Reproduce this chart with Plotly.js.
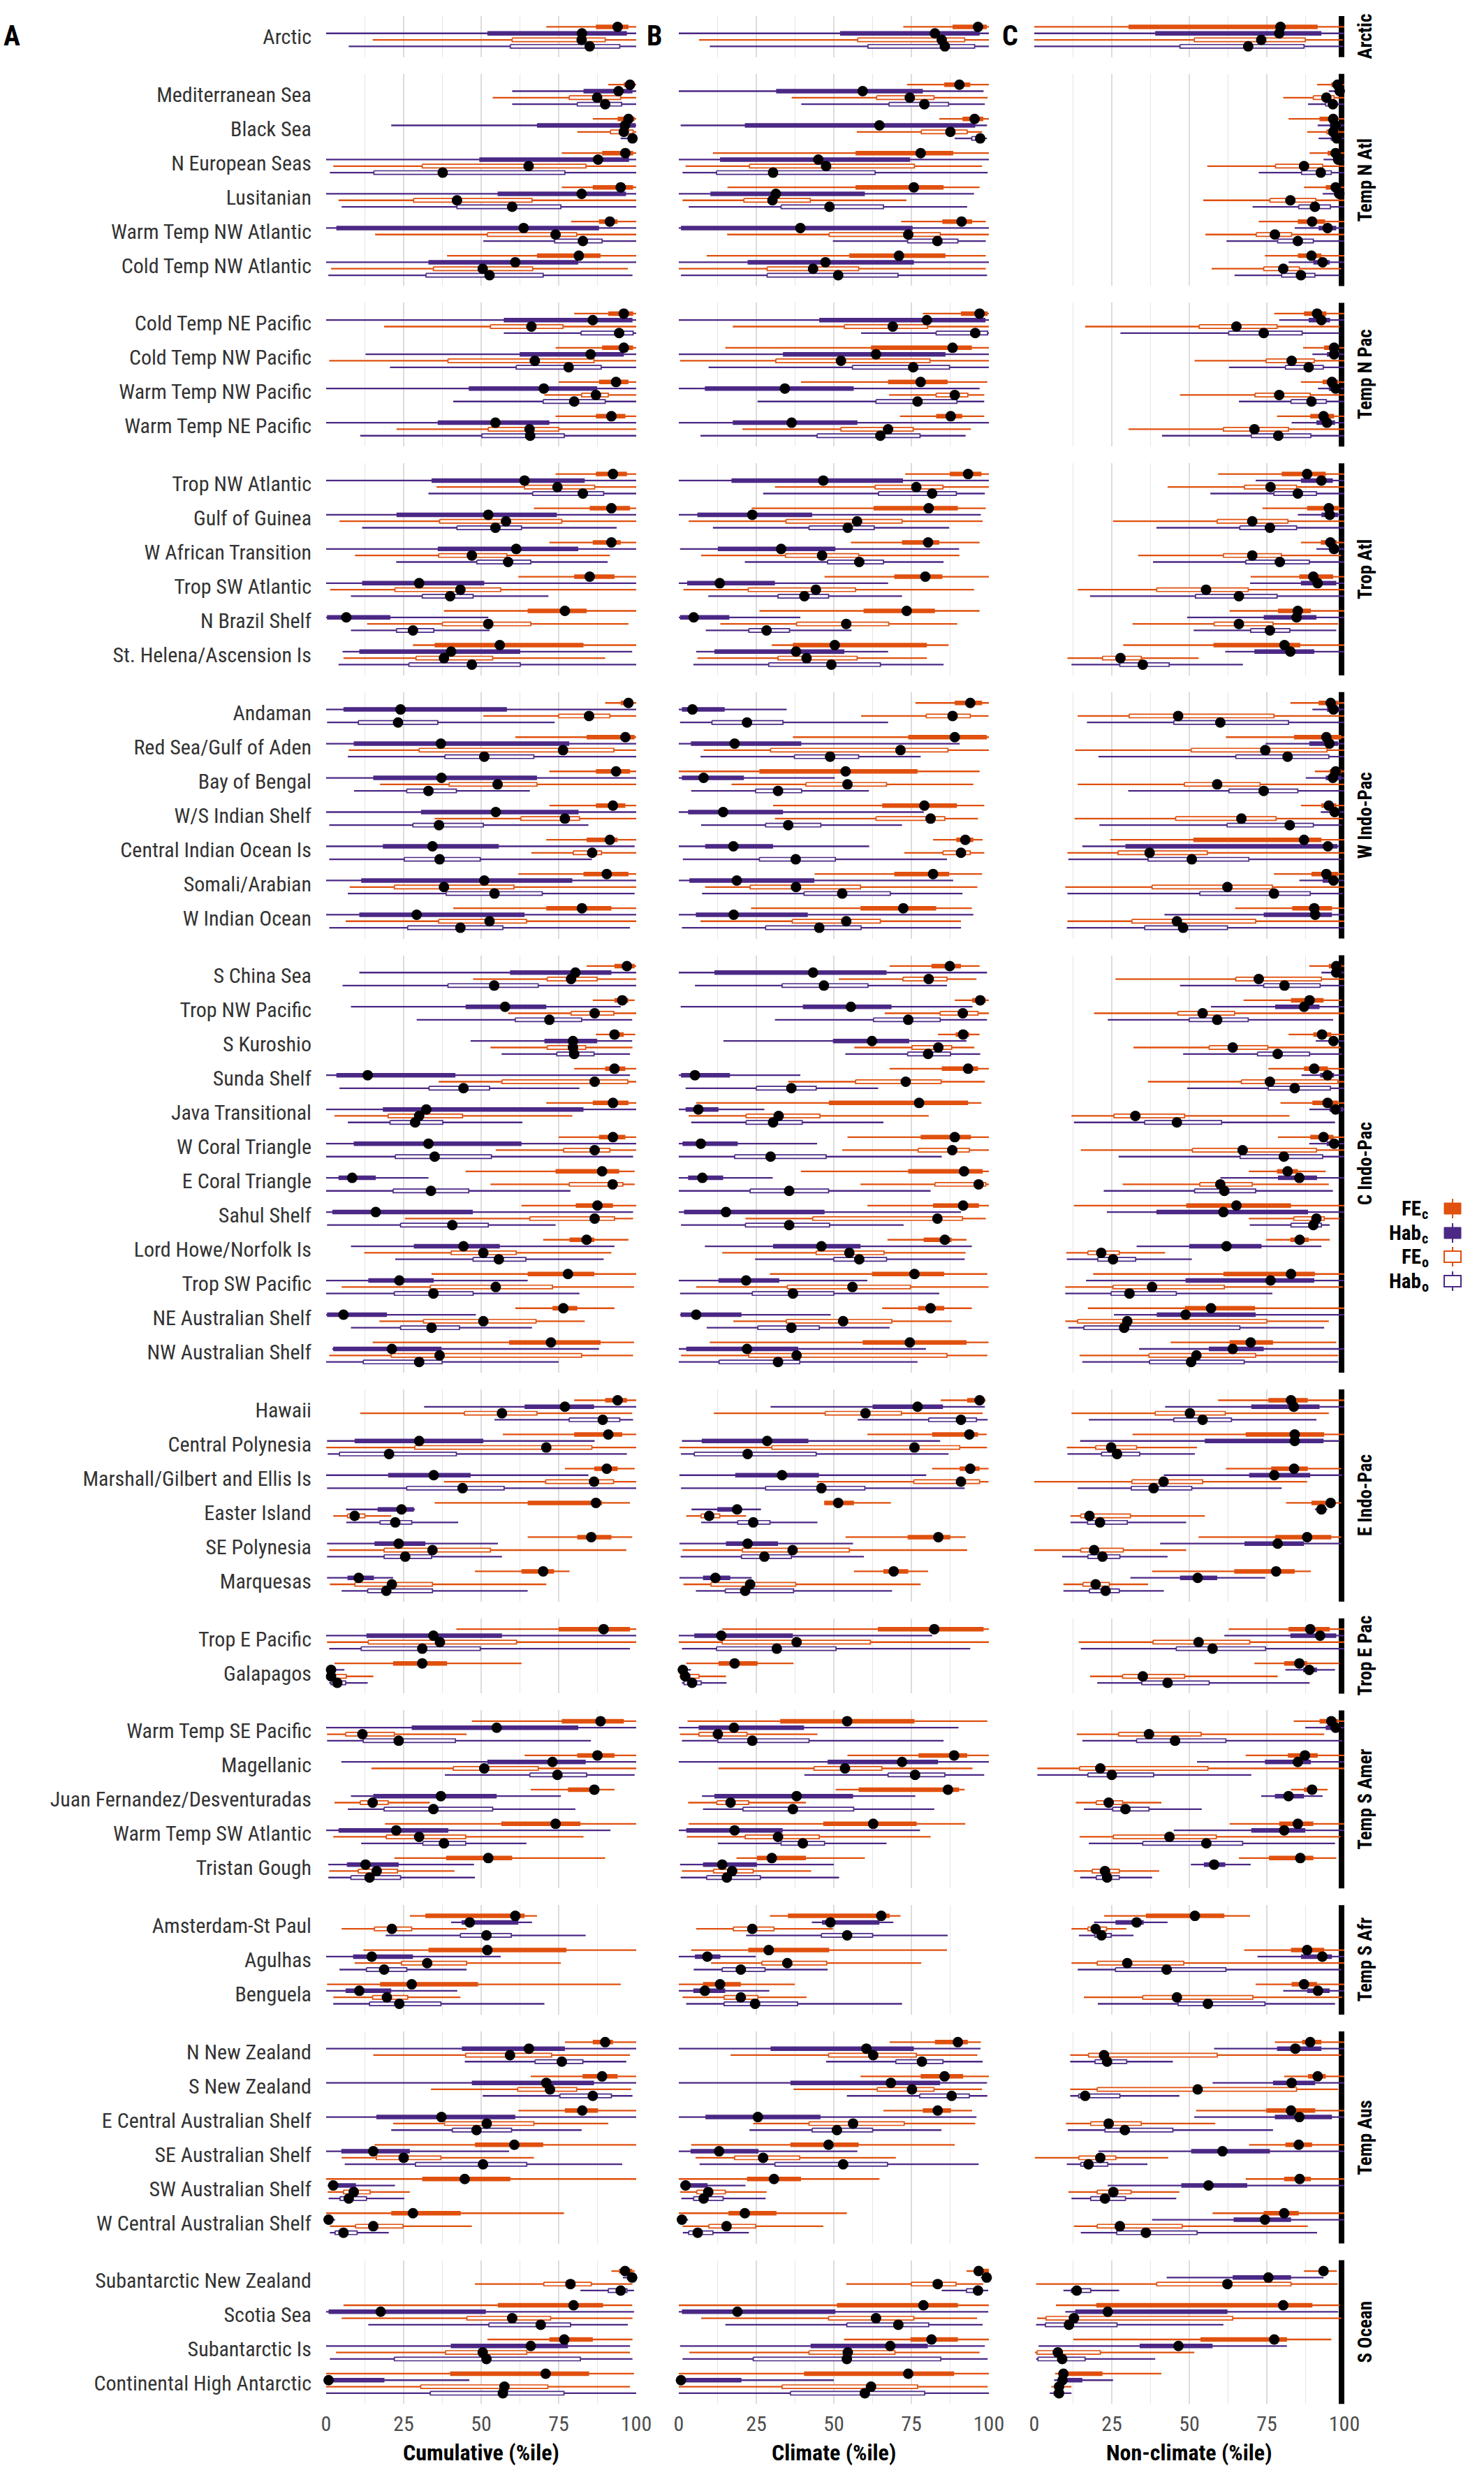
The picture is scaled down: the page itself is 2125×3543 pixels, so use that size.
<!DOCTYPE html>
<html><head><meta charset="utf-8">
<script src="https://cdn.plot.ly/plotly-3.0.1.min.js"></script>
<style>html,body{margin:0;padding:0;background:#fff;}#chart{width:2125px;height:3543px;}</style>
</head><body><div id="chart"></div>
<script>
const realms = ["Arctic","Temp N Atl","Temp N Pac","Trop Atl","W Indo-Pac","C Indo-Pac","E Indo-Pac","Trop E Pac","Temp S Amer","Temp S Afr","Temp Aus","S Ocean"];
const realmSizes = [1,6,4,6,7,12,6,2,5,3,6,4];
const regions = ["Arctic","Mediterranean Sea","Black Sea","N European Seas","Lusitanian","Warm Temp NW Atlantic","Cold Temp NW Atlantic","Cold Temp NE Pacific","Cold Temp NW Pacific","Warm Temp NW Pacific","Warm Temp NE Pacific","Trop NW Atlantic","Gulf of Guinea","W African Transition","Trop SW Atlantic","N Brazil Shelf","St. Helena/Ascension Is","Andaman","Red Sea/Gulf of Aden","Bay of Bengal","W/S Indian Shelf","Central Indian Ocean Is","Somali/Arabian","W Indian Ocean","S China Sea","Trop NW Pacific","S Kuroshio","Sunda Shelf","Java Transitional","W Coral Triangle","E Coral Triangle","Sahul Shelf","Lord Howe/Norfolk Is","Trop SW Pacific","NE Australian Shelf","NW Australian Shelf","Hawaii","Central Polynesia","Marshall/Gilbert and Ellis Is","Easter Island","SE Polynesia","Marquesas","Trop E Pacific","Galapagos","Warm Temp SE Pacific","Magellanic","Juan Fernandez/Desventuradas","Warm Temp SW Atlantic","Tristan Gough","Amsterdam-St Paul","Agulhas","Benguela","N New Zealand","S New Zealand","E Central Australian Shelf","SE Australian Shelf","SW Australian Shelf","W Central Australian Shelf","Subantarctic New Zealand","Scotia Sea","Subantarctic Is","Continental High Antarctic"];
const panelTitles = ["Cumulative (%ile)","Climate (%ile)","Non-climate (%ile)"];
const panelLetters = ["A","B","C"];
const seriesMain = ["FE","Hab","FE","Hab"];
const seriesSub = ["c","c","o","o"];
const xTickVals = [0,25,50,75,100];

// each entry: [low, q1, median, q3, high]
const cumFEc = [[71,87,94,97.5,100],[91,96,98,99,100],[86,94,97.5,99.5,100],[76,89,96.5,99,100],[76,86,95,99,100],[79,88,91.5,94,100],[39,68,81.5,88.5,100],[80,91,96,99,100],[74,89,96,99,100],[75,88,93.5,97.5,100],[74,87,92,96.5,100],[74,87,92.5,97,100],[67,85,92,98,100],[72,86,92,95,100],[62,80,85,93,100],[38,65,77,84,100],[28,35,56,83,100],[90,95,97.5,99,100],[61,84,96.5,99.5,100],[72,87,93.5,98,100],[72,87,92.5,96.5,100],[71,84,91.5,94,100],[62,83,90.5,97.5,100],[41,71,82.5,92,100],[84,93,97,99.5,100],[86,93,95.5,97.5,99.5],[87,91.5,93,96,99.7],[80,90,93,96.5,100],[71,86,92.5,97.5,100],[75,88,92.5,96.5,100],[45,74,89,94.5,99.5],[63,80.5,87.5,92.5,100],[70,78.5,84,86.5,97.5],[34,65,78,86.5,100],[61,73,76.5,81,93],[15,59,72.5,88.5,99.3],[80,90,94,97,100],[57,80,91,95.5,100],[77,86.5,90.5,94,99.5],[35,65,87,89,98],[65,81,85.5,92,98.7],[48,63,70,73.5,78.5],[42,75,89.5,98,100],[2.7,21.6,31,39,63],[47,76,88.5,96,100],[64,81,87.5,93,100],[66,78,86.5,88,93],[19,56.5,74,82,100],[22,38.7,52.3,60,90],[27,32,61,64,68],[12,33,52,77.5,100],[0.3,17.4,27.6,49,95],[77,86,90,92.5,100],[66,82.7,89,94,100],[62,77,82.6,87.7,100],[15.6,48,60.7,70,100],[0,31,44.7,59.4,100],[0,21,28,43.4,76.7],[92,94.4,96.4,98.7,99.5],[5.6,55.4,79.8,89.3,98.7],[52,72,76.8,86,98.8],[0,40,70.8,84.8,99.3]];
const cumHabc = [[0,52,82.5,97,100],[60,83,94.3,98.8,100],[21,68,96.4,99.8,100],[0,49.4,87.7,97.7,100],[0,55.3,82.4,96.7,100],[0,3.3,63.7,88,100],[0,33,61,81.3,100],[0,57.3,86,98.8,100],[12.7,62.4,85.3,96,100],[0,46,70.2,87.4,100],[0,36,54.6,72,100],[0,34,64,83.4,100],[0,22.7,52.3,74.4,100],[0,36,61.3,81.3,100],[0,11.6,30,51,100],[0,0.3,6.5,20.7,52.3],[5.3,10.7,40.3,62.6,98.7],[0,5.6,24,58.3,100],[0,8.9,37,78.4,100],[0,15.2,37.2,68,100],[0,30.6,54.7,81.4,100],[0,18.3,34.3,55.7,99.5],[0,11.3,51,79.4,100],[0,10.7,29.2,64,100],[10.7,59.3,80.4,92,100],[8,45,57.7,71,95],[46.6,70.4,79.6,87.4,98.7],[0,3.3,13.4,41.7,98],[0,18.3,32.3,83,100],[0,8.9,33,63,100],[0,4,8.4,16,33],[0,2,16,47.3,99],[8,28.3,44.3,56,93],[0,13.6,23.6,34.7,65],[0,0.3,5.6,19.6,48.3],[2,2.3,21.2,37.2,88],[31.6,64,77,86.4,100],[0.3,9.2,30,50.7,86.6],[0,20,34.7,46.6,84.6],[6.4,16.6,24.3,28.3,28.6],[0.3,15.6,23.4,32,55.4],[0.3,6.9,10.5,15.4,21.6],[0,13,34.6,56.7,100],[0,0.3,1.6,2.5,5.9],[0,27.6,55,81.3,100],[4.9,52,73,83.7,100],[8,15.2,37,55,75.7],[0,4,22.6,39.4,91.7],[0.7,6.7,12.7,23.4,47.7],[40.3,43.7,46.3,62,66.4],[0,8.7,14.7,28,56.3],[0,6.3,10.7,21,42.3],[0,43.8,65.4,77,100],[0,47,71,86.4,100],[0,16.2,37.2,61,100],[0,4.9,15.2,27,59],[0.5,1.5,2.3,9.6,22.2],[0,0,0.8,1.5,2.9],[95.7,97,98.7,99.7,100],[0,0.8,17.6,51.5,99.3],[0,40.2,66,78,98],[0,0,0.8,18.8,46.2]];
const cumFEo = [[15,60,82.4,90,100],[53.7,78.4,87.4,95,100],[81,91.7,96,99,100],[2.3,31,65.3,83.8,100],[4,28.2,42.2,66.4,100],[15.8,52,74,80.8,100],[1.6,34.6,50.5,66.6,97.3],[18.7,53,66.2,76.4,100],[1,39.3,67.3,86.4,100],[70.4,82.4,87,91,100],[22.7,52.3,65.6,75,100],[35.6,64,74.6,86.6,100],[4.3,36.6,58,76,100],[9.3,36.3,47,58.3,91.5],[1.3,22.2,43.3,56.3,100],[13.2,37.5,52.3,66,97.5],[5.6,29,38,53.7,90],[50.7,75,84.8,91.5,100],[7.3,30,76.4,92.8,100],[17.4,39.7,55.3,68,100],[35,62.8,77,81.7,100],[66.2,79.7,85.8,88.8,100],[7.6,22,38,60.6,100],[6.3,36.3,52.7,64.6,100],[47.4,71.3,79,87.4,100],[58.7,79,86.6,92.8,100],[53,71.3,79.6,83.7,98.8],[36.3,56.7,86.6,97.3,100],[2.7,20,30,44,79.4],[54.7,76.6,86.6,91.5,100],[53,78.4,92.4,95.7,99.5],[25.4,65.7,86.6,93,99],[12.3,40.3,50.7,61.3,92],[5,33.6,54.7,73,99.3],[17.2,31.4,50.7,67.7,83.4],[1,21,36.6,82.4,99],[11,44.6,56.7,68,98.7],[0,28.6,71,85.7,100],[38,70.8,86.4,92.7,100],[2.3,6.9,9.2,12.5,21],[1,18.7,34.3,53,96.8],[1.2,9.3,21.2,34.3,71],[0.3,13.6,36.7,61.4,100],[0.3,1.6,1.6,6.5,15.2],[0.3,6.3,11.7,22,45.3],[14.6,41,51,68.4,100],[2.7,11,15,20,33.4],[2.3,19.4,30,45,83],[1,10.4,16.3,23,41.4],[5,15.6,21.2,27.6,45.3],[9.2,24.3,32.6,45.3,75.7],[2.3,15,19.6,26.3,43.3],[15.2,45,59.3,72.7,98],[33.8,61.8,72.2,80.8,98.4],[21.6,38.2,51.8,67,91],[5,16.2,25,37,67],[0.5,5.6,8.9,14.2,27],[1.2,9.5,15.2,24.8,47],[48,70.2,78.8,85.5,98.8],[5,45.4,60,72.4,98.8],[3.2,38.5,50.5,64.7,98],[0,30.5,57.5,71.5,98]];
const cumHabo = [[7.3,59.4,85,94.7,100],[60,81,90,95.3,100],[95,97.7,98.8,99.8,100],[1.2,15.4,37.6,77,100],[5,42.2,60,75.7,100],[50.7,73.7,82.8,89,100],[0.7,32.2,52.7,70,98.8],[57.3,82.2,94.5,99,100],[20.6,61.3,78.2,88.7,100],[41,70,80,90,100],[11,50.2,65.8,76.8,100],[33,66.6,82.8,89.5,100],[11.6,42.2,54.6,63,93.7],[22.6,48.6,58.7,66,90.8],[8,31,40,47.4,71.7],[8,22.7,28,34.7,52.7],[4,26.7,47,62.6,100],[0.3,10.4,23.2,36,73.7],[7,38.3,51,67,100],[9,26,33,42,65.7],[1,28,36.4,50.7,84.6],[1,25.2,36.6,49.7,85.7],[7,38.7,54.3,69.7,99.5],[1,26.3,43.3,57,98],[5.3,39.3,54.2,68.4,100],[29.2,61,72,82.4,98.7],[56.6,74.4,80,86.4,98],[4.3,33.2,44.3,52.7,81.7],[7,20.6,28.7,37.6,63.3],[0,22.3,35,53.3,99],[0,21.6,33.8,46,78.8],[0.3,24,40.7,52.3,74],[22.3,47.4,55.7,64.4,89.5],[0,22,34.6,47.4,81.7],[8,24,34,43,66.4],[0,12,30,37.4,75],[54.3,78.4,89.2,94.7,99],[0.5,4.3,20.3,42,97],[0.3,26,44,57.4,100],[6.5,17.4,22.3,27.6,42.6],[0.3,18.7,25.5,34,56.7],[5,13.4,19.4,34.3,65],[1,11.3,31,49.7,98],[1,1.6,3.6,6.3,13.4],[0.3,12,23.4,41.7,85.4],[38.3,65.7,74.6,84,99.5],[7,18.7,34.6,53.7,80.4],[11.3,31.2,38,45,64.6],[0.7,8,14,24,48],[19.2,43.3,51.7,59.7,83.7],[4.3,13,18.7,26,45.3],[2.3,14,23.6,37,70.4],[44.7,67.4,76,82.8,96.8],[50.5,75.4,86,92,98.8],[21,40.7,48.5,59.8,82.4],[6,28.8,50.6,64.7,95.5],[0.8,4.5,7.3,13,25.2],[1.2,2.9,5.6,10,20.2],[82,91,95,97,99.3],[13.6,52.5,69.2,78.8,97.3],[1.2,22,51.7,82,98.8],[0,33.6,57,76.7,100]];

const cliFEc = [[72.4,88.3,96.5,99.3,100],[73.6,85.6,90.5,94,100],[84,91.5,95.4,98.2,100],[11,57,78,88.5,100],[15.7,57,75.8,85.4,97],[71.7,85,91.2,94.6,99],[9,55,71,86,99],[78.7,91,97,99.6,100],[15,62,88.3,94.5,100],[39.4,67.5,78,86.7,99.5],[71.3,83,87.7,91.4,98.5],[73,87.4,93.3,97.6,100],[23.5,62.8,80.6,90,99],[55.5,72,80.4,84,97],[47,69.5,79.5,85,100],[26,59.6,73.5,82.6,97],[30,36.8,50.3,80,87],[76.3,89,94,97.8,100],[36.8,74,89,99.3,100],[0,26,53.8,77,97],[30.4,65.6,79.2,89.7,98.5],[82,89.5,92.4,95,98],[43.8,69.5,82,87.2,97.8],[23.3,58.6,72.4,83,94.5],[68,81.5,87.4,91,97],[89,94.6,97.2,99,100],[83.6,89.3,91.7,93.7,97],[68,84.8,93.3,96.5,100],[5.6,48.4,77.5,93.3,97.6],[54.4,78,89,94.2,100],[39.4,74,92,98,100],[60.8,82,91.7,96.8,100],[67.3,79,85.8,88,92.8],[29.4,62.3,76,85.6,99.5],[65.6,77.2,81.2,85.6,94.5],[10,59.3,74.5,92.8,99.9],[84.5,93,97,98.7,99],[60.8,81.7,93.7,96.5,99.3],[81.7,90.6,94,97,99.9],[46.9,46.9,51.4,56.5,68.4],[53.8,73.8,83.7,87.6,92.5],[56.5,66,69.3,74,80.4],[14,64.2,82.4,98.3,100],[2.4,12.8,18,25.4,37],[2.8,32.7,54.3,76,99.5],[54.4,77.3,88.8,93,100],[50.6,58,86.8,90.4,92.2],[3.2,46.6,62.7,76.7,92.4],[18.6,25.2,30,41,60],[29.4,35.2,65.3,68,71.5],[4,22.4,29,48.5,86.5],[0,7.8,13.3,20,37.4],[68,82.6,90,93.2,97.4],[58.6,78,85.7,91.7,100],[66,78.7,83.5,87.8,94.6],[4,36,48.3,58,89],[0,22,30.7,39.4,64.7],[0,16,21.3,31.5,54.2],[92.8,95.9,96.7,100,100],[0,51,78.9,90,100],[53.3,74.7,81.5,90,100],[0,40.4,74,88.8,100]];
const cliHabc = [[0,52,82.6,97,100],[0,31.4,59.3,78.7,98.3],[0.6,21.3,64.7,95.6,99.4],[0,13.3,45,74.6,100],[0,10.2,31.3,60,95.2],[0,0.7,39.2,75.4,100],[0,22.2,47.3,75.8,100],[0,45.3,80,98.9,100],[0,33.6,63.6,86,100],[0,8.4,34.2,56.4,97],[0,17.4,36.4,57.6,100],[0,17,46.6,72.3,100],[0,6,23.7,43,97.4],[0.4,12.6,33,50.5,90.4],[0,2.7,13.2,31,67.5],[0,0.4,4.8,16.3,39.2],[5.6,11.5,37.8,53.4,67.5],[0,1,4.4,14.8,34.8],[0,3.9,18,39.5,90.6],[0,1,8,21,50.3],[0,3,14.3,33.6,79],[0,8.5,17.6,30.4,61.4],[0,3.4,18.7,43.7,88.5],[0,5.5,17.7,41.6,95],[0,11.5,43.3,67,99.4],[0.6,40,55.5,68.6,94.7],[14.4,49.7,62.3,74.3,92.8],[0,0.7,5.2,16.5,39.2],[0,2.2,6.3,12.8,27.6],[0,1.2,7.1,19,44.6],[0,3,7.6,14.3,30.3],[0,1.7,15.2,47,91],[8.4,30.4,46,58.6,94.5],[0,12.8,21.7,32.4,60.8],[0.4,0.6,5.6,20.2,49],[0,2.4,22,38.5,79.7],[29.6,62.5,77,85.2,98.7],[1,7.4,28.5,41.8,84.3],[0.2,18.2,33.3,45.2,79.8],[4.1,12.4,18.8,19.5,26.5],[0.2,15.2,22.2,32,56.2],[0.2,7.8,11.8,16.6,23.5],[0,5,13.7,36.8,81.7],[0,0.2,1.3,2.4,3.9],[0,6.4,17.8,40.4,90.2],[0,48,72,83.6,100],[7.5,11.5,38,56.2,76.3],[0,2.4,18,33.5,77.8],[0.4,7.8,14,25.2,50],[42.9,46.2,48.9,64.7,69.2],[0,5.2,9.2,13.4,24.8],[0,4.7,8.4,15,29.2],[0,29.6,60.5,75.8,97.3],[0,36,68.4,84.3,99.4],[0,8.6,25.5,45.7,96],[0,3.8,13,25.7,57.6],[0.4,0.6,2.2,9.3,21.5],[0,0,1,1.7,3],[97.4,98.5,99.3,100,100],[0,1,18.9,50.5,99.8],[0.4,42.5,68.2,80.3,98.7],[0,0,0.7,20.2,50]];
const cliFEo = [[6.5,57.7,84.8,92.2,100],[36.4,63.8,74.5,82.3,99.6],[57.4,78.2,87.6,93,97.8],[2.2,22.8,47.5,76,97.8],[1.2,21,30.2,42.4,73.4],[15.6,48.5,74,84.3,100],[0,28.5,43.3,58,99],[17.4,53.4,69,80.2,100],[0.4,31.3,52.3,81,100],[67.8,83,89,93.2,98.5],[20.5,52.3,67.5,75.6,94.2],[31,63.3,76.6,85.2,100],[3.2,34.6,57.5,72,98],[7.2,34.4,46.2,58,90.5],[1.5,22.4,44.2,57,95.2],[13.4,38,54,67.7,89.8],[6,32,41.2,57.5,80],[58.8,79.8,88.3,94,99.9],[8,29.6,71.5,86.8,100],[17,41,54.4,67,95],[31,63.6,81.2,85.8,96.5],[72.7,85.2,91,94,98.5],[8.5,23,37.8,58.6,96.3],[7,36.6,54,65,91],[51.6,72.3,80.6,86.5,96],[66.4,84.3,91.6,96.5,100],[56.6,75.2,83.7,88,95.3],[35.3,57,73.2,84.6,98.7],[3.2,21.7,32.2,45.5,80.6],[52.7,77.2,88.2,93.7,100],[58.6,82.6,96.7,99,100],[21.5,43.2,83.4,91.5,99],[14,44.3,55,66.2,92.5],[5.6,35,56,74.7,99.9],[17.6,34.7,53,68.7,88],[0.7,22.6,38,86.5,99.5],[11.3,47.2,60.2,71.8,98],[0.2,30,76,90.6,99.4],[44.6,75.8,91,97,99.9],[2.4,7.2,9.8,13.2,21.7],[1.2,20.5,36.7,55,93],[1.5,10.4,23,37.7,78],[0,14,38,61.8,100],[0.2,0.6,2.1,6.5,15.2],[0.4,6.5,12.6,22,44.7],[12.8,43.6,53.6,65.5,94.7],[3,12.3,16.7,22.5,41],[2.6,21.4,32,45.3,81.2],[1,11.2,17.2,24,42.7],[5.6,17.6,23.7,30.7,49.7],[10.4,26.8,35,47.7,78.2],[1.2,14.6,20,25.5,41.2],[16.7,48.3,62.7,76.6,96.3],[37,64,75.2,82.3,97.8],[24,42,56.2,72.7,95.6],[5.4,18,27.2,39,70],[0.4,5.8,9.5,15,28.3],[1.2,9.7,15.4,24.8,46.6],[54,75,83.5,89.4,98.2],[7.2,48.3,63.6,75.8,96.2],[3.4,42,54.5,69.7,97],[0,33.3,62,77,99.6]];
const cliHabo = [[10,61,85.8,95.4,100],[39.5,67.8,79.2,87,98.7],[89,94.5,97.2,98.4,99.4],[1.2,12.2,30.4,63.3,99.6],[3.2,33,48.6,66,93],[49.7,73.8,83.4,90,99],[0.7,28.5,51.4,70.7,99.4],[58.8,83,95.6,99.6,100],[9.6,56,75.6,87.3,100],[25.4,63.6,77,89.7,98.5],[7,44.6,65,77.8,92.5],[27.2,64.4,81.7,89.5,98.7],[11,42,54.5,63,87.2],[21.3,48,58.2,66,85.4],[9.5,32,40.5,48.3,72],[8.7,22.6,28.3,35.7,55.7],[4.7,29,49.2,65,85.4],[0.4,10.7,22,33.6,67.5],[7,37.3,48.8,58,78],[4,24.8,32,39.6,61.3],[7.2,28,35.3,45.8,72],[1.3,26,37.7,50.5,86.5],[7.5,40.4,52.7,68.2,91.5],[1,28,45.3,58.8,91],[5.2,33.3,46.8,61,86.5],[31,62.8,74,84.3,99.4],[53.7,73.8,80.4,87.6,97.2],[2.2,25,36.3,44.3,64.3],[4,21.7,30.4,39.8,66],[0,18,29.6,47.5,84.8],[0,23,35.6,48.3,81.2],[0.7,21.5,35.6,48.6,72.5],[24.6,50,58.2,67,92.2],[0.4,23.7,36.8,50,84],[9,25.5,36.3,45.3,68],[0,13,32,39,77],[57.7,80.6,91,96,99.6],[0.7,5,22.2,44.3,87],[0.7,28,46,60,92.2],[7.2,19,24,29.4,44.7],[0.6,20.2,27.6,36.3,59.7],[5.5,15,21.4,37,68.8],[1,12.2,31.6,50.7,94],[1,1.7,4.3,7.2,15.4],[1,12.6,23.7,42,85.4],[40.5,67.5,76.2,85.8,98.5],[7.8,20.7,36.8,56.4,82.4],[12.6,33,40,47,67],[0.6,9,15.5,26.3,51.7],[21.7,46,54.3,62.5,86.7],[4.8,14,20,27.8,48],[2.4,14.6,24.6,38.3,72],[47.5,70,78.4,85.2,98],[54.2,77.7,88,93.7,99.5],[22.8,43,51,62.5,84.7],[6.7,31,53,67.3,96.7],[0.8,4.8,8,14.3,28],[1.3,3.2,6.1,11,22.6],[84.8,92.8,96.5,97,99.8],[15,54.2,70.8,80.6,98],[1.2,24,54.2,84.5,99.6],[0,36,60,79.3,100]];

const nclFEc = [[0,30.4,79.4,91.4,100],[91.2,95.8,97.8,98.5,100],[82,92,96.4,98,100],[88.8,94.6,97.2,98.5,100],[87,94,97.2,98.5,100],[72.4,85,89.6,93.8,100],[74.4,85,89.4,92.6,100],[77.4,87,91.2,94.2,100],[86.7,93.5,96.7,98,100],[86,93,96,98,100],[78.3,89,93.3,96.7,100],[59.3,79.8,88,94,100],[73.6,88,95,98.4,100],[86,92.4,95.5,97.6,100],[69.8,85.5,90,96.4,100],[63,78.6,85,89.2,100],[28.7,57.8,80.7,85.8,100],[82.6,91.7,95.6,98,100],[61.8,83.8,94.2,99,100],[90.5,95.3,97.2,99,100],[86,92.6,95,97.4,100],[24.5,51.3,87,92.6,100],[77.3,89.4,94.2,98,100],[64.8,83.2,90.3,96,100],[88.7,95,97.4,99,100],[67.5,82.8,88.8,93.3,99.2],[82,90,92.8,95.8,100],[75.5,87,90.3,94.7,100],[79.4,89.7,94.6,98,100],[78.6,89,93.3,96.5,100],[69.2,78.3,81.7,85,94],[12.8,49,65.2,82.8,100],[74.8,82.6,85.6,88.5,95.3],[19,61,82.8,90.5,100],[17.3,48.6,57,71.2,100],[44,63,69.8,77,97.4],[59.3,75.5,82.8,88.2,100],[31.7,68.2,84,93.5,100],[61.8,76.4,83.8,88.2,99],[81.2,89.4,95.6,96.5,99],[53,77.7,88,95.8,99],[38,64.5,78,84,89.2],[62.7,82,89,95.3,100],[71,80.6,85.5,88,98.4],[83.7,92,95.8,98,100],[68.2,81.8,87.3,91.4,100],[82.8,87,89.6,90.8,94.6],[63,79,85,90,100],[66,75.7,85.8,90,97.4],[22.5,36,51.8,61.3,69.6],[67.7,82.8,88,93.5,100],[71.4,83,87,91.2,100],[77.6,86.4,89,92.6,100],[80.6,88.3,91.4,94,100],[52.2,74.8,82.8,90.6,100],[69.3,81,85.3,89.6,100],[68.2,80.6,85.6,89.2,100],[57.5,74,80.6,85.3,100],[87,91.7,93.3,94.6,97.6],[7,20,80.3,89.7,98.5],[12.6,53.6,77.4,81.5,95.8],[6.7,8.5,9.4,22,41]];
const nclHabc = [[0,39,79,92.6,100],[95,97.2,98.5,99,100],[91.4,95.3,97.2,99,100],[93.3,96.7,98,99,100],[93,96.7,98.4,99,100],[84,91.7,94.6,97.4,100],[82,90,93,95.3,100],[79,88.5,92.6,95.4,100],[89.7,94.4,96.7,98.5,100],[91.5,95,97.2,98.5,100],[83,91,94.4,97,100],[71.4,86,92.6,96.3,100],[85,92.6,95.3,98,100],[91,95,96.7,98.5,100],[69.6,86,91.4,97.4,100],[49.3,74,84.6,91,100],[61.6,71,82.6,90.3,100],[89.7,94.4,96.5,98.5,100],[74.6,88.7,95.2,98,100],[87.6,94,96.3,99,100],[92.4,95.3,96.9,98.5,100],[15.5,29.4,94.7,97.8,98.5],[85.5,93,96.5,98,100],[42,74,90.6,96,100],[92.6,95.8,97.4,99,100],[57,77.7,87,92,100],[90.8,95,96.5,98,100],[86.2,92.2,94.6,96.7,100],[88.7,95.2,97.2,99.7,100],[88.7,94.3,96.7,98,100],[60,78.6,85.5,91.2,100],[23.4,39.4,61,88.3,100],[33,50,62,73.3,92.6],[16.7,48.8,76.2,90.3,100],[25.7,39.5,48.8,71.4,100],[33.8,56.3,64,74,100],[42.2,70,83.7,92,100],[14.8,55,84,93.3,98.5],[41.8,69.3,77.4,89,99.3],[90.5,91.8,92.6,93.3,94.5],[40.6,67.8,78.5,87,99],[31,47,52.7,59,74.5],[61.3,82.6,92.2,97.4,100],[81,86.7,88.7,91.2,97],[87.4,94,97.2,98.5,100],[52.5,74.4,85,89.2,100],[73.2,77.6,82,87,93],[45,70,80.6,87.4,100],[50.5,54.7,58,61.6,69.8],[19.3,26.2,33,35.3,43],[72,86,92.9,96,100],[80.3,88,91.5,95.3,100],[58,78.3,84.2,92.6,100],[57.5,77,83,90.6,100],[51.6,77.6,85.5,96,100],[20.7,50.6,60.7,76,100],[23.7,47.4,56.2,68.7,100],[38,64.3,74.4,82.8,100],[42.7,64,75.5,82.8,93.3],[10,13.2,23.7,62.3,98],[1.4,34,46.5,57.5,81.5],[6.4,8.5,9.1,15.5,25.4]];
const nclFEo = [[0,51.6,73.2,87.4,99.5],[80.3,90,94.2,96.7,100],[88,94.4,96.4,98,100],[55.8,77.8,87,93,100],[54.5,76,82.6,90.8,100],[55.2,71.6,77.6,83,100],[57.2,74,80.3,85.5,99],[16.4,53.2,65.2,78.3,98.5],[51.7,74.8,83,90.3,100],[47,71.2,79,89,100],[30.4,61,71,82,100],[43,67.8,76.2,84.6,100],[25.4,59,70.3,81.8,100],[33.5,61,70.3,79.7,99],[14,39.5,55.4,69,100],[31.7,58,66,77,98],[10.7,22,27.8,34.5,53],[14,30.6,46.4,77.3,100],[13.2,50.6,74.5,94.4,100],[14,48.4,59,72.8,100],[13,45.6,66.8,78,99.5],[10.7,27,37.2,55.8,100],[10,38,62.3,76.8,100],[10.7,31.5,46,71.4,100],[26.2,65,72.4,92.6,100],[19.3,46.3,54.3,64.6,100],[32,56.4,64,75.3,98.8],[36.7,66.8,76,97.9,100],[12,25.7,32.6,48.5,82.3],[15,51,67.2,91,100],[28.5,53.4,60,70.3,95],[69.2,83.7,91,93.5,98.5],[10.3,17.3,21.6,27.4,42.2],[10,25.4,38,61.3,99.5],[10,14,30,75,95],[14.6,37,52.3,71.4,98],[12,39,50.2,61.6,95],[10.5,19.8,24.8,33,52.5],[0,31.5,41.7,54.3,88],[11.7,15,17.8,31,55],[0,15,19.3,28.7,49],[9.4,15.7,19.8,24.2,36.7],[14.3,38.3,53,69.5,100],[18,28.5,35,48.5,78.5],[13.7,27.2,37,53.8,93.5],[1,14.6,21.3,56,100],[13.4,20,24,28.5,41],[14.6,25.5,43.6,58.7,98.8],[12.8,18.7,22.8,27.4,40.3],[12,17.3,19.8,23.3,29.7],[12,20.3,30,48.2,100],[16,35,46,70.5,99.3],[11.6,17.5,22.5,59,99],[11.6,20.3,52.7,84.6,98],[10.2,18.2,24,34.5,58.4],[0.2,14.4,21.3,26.3,43.2],[11,20.3,25.5,31.2,46.8],[12.8,20.3,27.6,47.7,88.2],[0.6,39.5,62.3,82.8,97.9],[0.9,3.8,12.8,64,99],[0.2,0.9,7.6,21.3,51.6],[5.5,6.8,8,8.7,12]];
const nclHabo = [[0,47,69,87,99.7],[88.3,94,96.3,97.6,100],[91.7,95.8,97.6,99,100],[72.4,86.2,92.4,95.8,100],[70.4,85.3,90.5,95.5,100],[62,78.5,85,90,100],[64.6,79.8,86,90.5,98.5],[27.8,62.7,74,86.4,98.5],[62.8,81,88.5,93.2,100],[66,82.8,89.4,94.2,100],[41.2,70,78.7,89.2,100],[56.8,77.3,85,91,100],[39.4,66.3,76,84.6,100],[38.3,68.2,79.2,88.7,100],[18,52,66,78.3,100],[51.4,69.8,76,82.4,97.4],[12,27.6,35,43.5,67.3],[17,45,60,82,100],[20.7,65,81.7,95,100],[30.3,62.8,74,85,100],[21,62.2,82.4,90,99.2],[11,36.7,50.8,69.2,99],[10.7,53.4,77.3,89,99.5],[10.5,35.6,48,62.3,100],[47,74,80.7,92.2,100],[23.7,50,59,69,96.4],[48,72,78.5,88.8,99.2],[49.3,75.5,84,95.5,100],[12.8,35.6,46,60.4,97],[27.2,66.4,80.5,93,100],[22.4,51.7,61.3,71.4,96.3],[69.5,82.8,90,92.6,95.3],[10.5,20.5,25.4,32.7,50.8],[10,24.8,30.7,45.8,76.8],[11,16,29,66.3,93.5],[15.5,37.2,50.6,67.7,98],[17.6,45,54.3,63.6,91],[10.7,21.7,26.7,34,51.8],[14,31.3,38.5,50.8,79.8],[11.7,17.2,21.2,30,49],[9,17.3,22,27.6,43],[9.4,17.8,23,27.4,41.8],[15,45.8,57.5,74.6,100],[20.3,34.7,43,56.4,88.8],[15.5,33,45.4,61.8,99.3],[1,17.3,25,38.5,70],[16,25.3,29.4,37,54],[17.6,35,55.5,67.2,97],[14.8,20,23.5,27.4,38],[14.4,19.6,21.7,24.8,32],[14,26.2,42.7,61.8,99],[20.5,46.4,56,74.4,97],[11.6,19.6,23.5,29.8,44.7],[11.6,14.3,16.4,27.6,46.8],[10.8,22.8,29.2,44.7,77],[10.5,15,17.5,23.7,36.5],[12,18.2,22.8,29.4,45.8],[15,26.6,36,52.5,91.2],[9.4,12,13.7,18.2,27.4],[0.6,3.6,11.2,26.7,61],[0.6,1.2,9,16.4,39],[5,6.4,8,8.2,12]];

// ---------------- drawing ----------------
const W = 2125, H = 3543;
const FONT = "Liberation Sans Narrow, Roboto Condensed, Roboto, Arial, sans-serif";
const ORANGE = "#E0500E", PURPLE = "#4B2885";
const sColors = [ORANGE, PURPLE, ORANGE, PURPLE];
const sFilled = [true, true, false, false];
const panelPx = [[467, 911], [972, 1416], [1481, 1925]];
const topPx = 23, gapPx = 24, unitPx = 48.98, pad = 0.6;
const rowOff = [-0.285, -0.095, 0.095, 0.285];
const boxHalf = 2.6 / unitPx;
const panels = [[cumFEc, cumHabc, cumFEo, cumHabo], [cliFEc, cliHabc, cliFEo, cliHabo], [nclFEc, nclHabc, nclFEo, nclHabo]];

const facetStart = [], facetTop = [], facetBot = [];
let acc = 0, yy = topPx;
realmSizes.forEach(n => {
  facetStart.push(acc); acc += n;
  const h = (n - 1 + 2 * pad) * unitPx;
  facetTop.push(yy); facetBot.push(yy + h); yy += h + gapPx;
});

const traces = [];
const layout = {
  width: W, height: H, margin: {l: 0, r: 0, t: 0, b: 0},
  paper_bgcolor: "#fff", plot_bgcolor: "rgba(0,0,0,0)",
  showlegend: false, font: {family: FONT, color: "#333"},
  shapes: [], annotations: []
};

for (let p = 0; p < 3; p++) {
  for (let f = 0; f < realmSizes.length; f++) {
    const n = realmSizes[f];
    const k = p * realmSizes.length + f + 1;
    const sfx = k === 1 ? "" : String(k);
    const xa = "x" + sfx, ya = "y" + sfx;
    layout["xaxis" + sfx] = {
      domain: [panelPx[p][0] / W, panelPx[p][1] / W], range: [0, 100], anchor: ya,
      tickmode: "array", tickvals: xTickVals, ticktext: xTickVals.map(String),
      showgrid: true, gridcolor: "#DCDCDC", gridwidth: 2.8,
      minor: {tickmode: "array", tickvals: [12.5, 37.5, 62.5, 87.5], showgrid: true, gridcolor: "#E5E5E5", gridwidth: 1.8, ticks: ""},
      zeroline: false, showline: false, ticks: "",
      showticklabels: f === realmSizes.length - 1,
      tickfont: {family: FONT, size: 30, color: "#4D4D4D"}, ticklabelstandoff: 8,
      fixedrange: true
    };
    const idx = []; for (let j = 0; j < n; j++) idx.push(j);
    layout["yaxis" + sfx] = {
      domain: [1 - facetBot[f] / H, 1 - facetTop[f] / H], range: [n - 1 + pad, -pad], anchor: xa,
      tickmode: "array", tickvals: idx, ticktext: idx.map(j => regions[facetStart[f] + j]),
      showticklabels: p === 0, tickfont: {family: FONT, size: 30, color: "#333"},
      ticklabelstandoff: 20, ticks: "", showgrid: false, zeroline: false, showline: false, fixedrange: true
    };
    // whisker lines
    for (let s = 0; s < 4; s++) {
      const arr = panels[p][s], lx = [], ly = [];
      for (let j = 0; j < n; j++) {
        const d = arr[facetStart[f] + j], y = j + rowOff[s];
        lx.push(d[0], d[4], null); ly.push(y, y, null);
      }
      traces.push({type: "scatter", mode: "lines", x: lx, y: ly, xaxis: xa, yaxis: ya,
        line: {color: sColors[s], width: 2.3}, hoverinfo: "skip"});
    }
    // inter-quartile bars / boxes
    for (let s = 0; s < 4; s++) {
      const arr = panels[p][s], bx = [], by = [];
      for (let j = 0; j < n; j++) {
        const d = arr[facetStart[f] + j], y = j + rowOff[s];
        if (sFilled[s]) { bx.push(d[1], d[3], null); by.push(y, y, null); }
        else {
          bx.push(d[1], d[3], d[3], d[1], d[1], null);
          by.push(y - boxHalf, y - boxHalf, y + boxHalf, y + boxHalf, y - boxHalf, null);
        }
      }
      if (sFilled[s]) {
        traces.push({type: "scatter", mode: "lines", x: bx, y: by, xaxis: xa, yaxis: ya,
          line: {color: sColors[s], width: 6.5}, hoverinfo: "skip"});
      } else {
        traces.push({type: "scatter", mode: "lines", x: bx, y: by, xaxis: xa, yaxis: ya, fill: "toself",
          fillcolor: "#FFFFFF", line: {color: sColors[s], width: 1.7}, hoverinfo: "skip"});
      }
    }
    // medians
    const mx = [], my = [];
    for (let s = 0; s < 4; s++) {
      const arr = panels[p][s];
      for (let j = 0; j < n; j++) { mx.push(arr[facetStart[f] + j][2]); my.push(j + rowOff[s]); }
    }
    traces.push({type: "scatter", mode: "markers", x: mx, y: my, xaxis: xa, yaxis: ya, cliponaxis: false,
      marker: {color: "#000", size: 15, line: {width: 0}}, hoverinfo: "skip"});
  }
}

// facet strips
const cRight = panelPx[2][1];
realms.forEach((r, f) => {
  layout.shapes.push({type: "rect", xref: "paper", yref: "paper", layer: "below",
    x0: (cRight - 8) / W, x1: cRight / W, y0: 1 - facetBot[f] / H, y1: 1 - facetTop[f] / H,
    fillcolor: "#000", line: {width: 0}});
  layout.annotations.push({xref: "paper", yref: "paper", x: (cRight + 30) / W, y: 1 - (facetTop[f] + facetBot[f]) / 2 / H,
    text: r, showarrow: false, textangle: -90, xanchor: "center", yanchor: "middle",
    font: {family: FONT, size: 27, color: "#000", weight: "bold"}});
});

// panel letters and axis titles
const letterX = [17, 937, 1446];
panelLetters.forEach((L, p) => {
  layout.annotations.push({xref: "paper", yref: "paper", x: letterX[p] / W, y: 1 - 52 / H, text: L, showarrow: false,
    xanchor: "center", yanchor: "middle", font: {family: FONT, size: 40, color: "#000", weight: "bold"}});
  layout.annotations.push({xref: "paper", yref: "paper", x: (panelPx[p][0] + panelPx[p][1]) / 2 / W, y: 1 - 3511 / H,
    text: panelTitles[p], showarrow: false, xanchor: "center", yanchor: "middle",
    font: {family: FONT, size: 32, color: "#000", weight: "bold"}});
});

// legend (main label + subscript drawn as separate texts)
const legY = [1730, 1765, 1799, 1834];
seriesMain.forEach((lab, s) => {
  const cy = legY[s];
  layout.shapes.push({type: "line", xref: "paper", yref: "paper", x0: 2080 / W, x1: 2080 / W,
    y0: 1 - (cy - 14) / H, y1: 1 - (cy + 14) / H, line: {color: sColors[s], width: 2}});
  layout.shapes.push({type: "rect", xref: "paper", yref: "paper", x0: 2068 / W, x1: 2092 / W,
    y0: 1 - (cy - 8) / H, y1: 1 - (cy + 8) / H,
    fillcolor: sFilled[s] ? sColors[s] : "#FFFFFF", line: {color: sColors[s], width: sFilled[s] ? 1 : 2}});
  layout.annotations.push({xref: "paper", yref: "paper", x: 2036 / W, y: 1 - cy / H, text: lab, showarrow: false,
    xanchor: "right", yanchor: "middle", borderpad: 0, font: {family: FONT, size: 29, color: "#000", weight: "bold"}});
  layout.annotations.push({xref: "paper", yref: "paper", x: 2035 / W, y: 1 - (cy + 8) / H, text: seriesSub[s], showarrow: false,
    xanchor: "left", yanchor: "middle", borderpad: 0, font: {family: FONT, size: 20, color: "#000", weight: "bold"}});
});

Plotly.newPlot("chart", traces, layout, {staticPlot: true, displayModeBar: false});
</script>
</body></html>
